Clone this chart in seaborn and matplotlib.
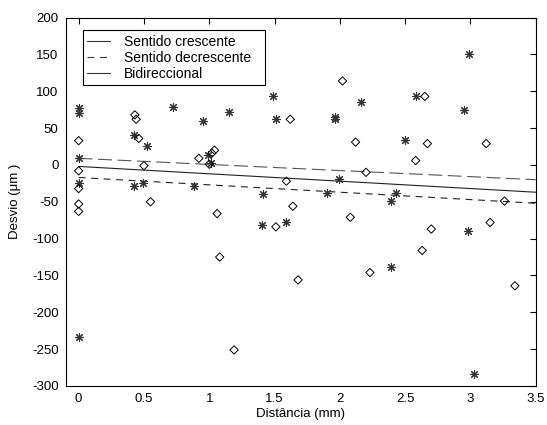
import matplotlib
matplotlib.use("Agg")
import matplotlib.pyplot as plt
import seaborn as sns
import pandas as pd
from matplotlib.lines import Line2D

# ---- data ----
star_x = [0, 0, 0, 0, 0,
          0.42, 0.52, 0.42, 0.49,
          0.72, 0.95, 0.99, 1.01, 0.88,
          1.15, 1.49, 1.51, 1.41, 1.40, 1.59,
          1.96, 1.96, 1.99, 1.90,
          2.16, 2.43, 2.39, 2.39, 2.50, 2.58,
          2.95, 2.99, 2.98, 3.03]
star_y = [77, 71, 9, -25, -233,
          40, 26, -29, -25,
          78, 59, 13, 2, -29,
          72, 94, 62, -40, -81, -77,
          65, 63, -19, -38,
          85, -38, -49, -138, 34, 93,
          75, 151, -89, -284]

diamond_x = [0, 0, 0, 0, 0,
             0.43, 0.44, 0.46, 0.50, 0.55,
             0.92, 1.02, 1.04, 1.00,
             1.06, 1.08, 1.19,
             1.51, 1.59, 1.62, 1.64, 1.68,
             2.02, 2.08, 2.12, 2.20, 2.23,
             2.58, 2.63, 2.65, 2.67, 2.70,
             3.12, 3.15, 3.26, 3.34]
diamond_y = [33, -8, -32, -53, -63,
             68, 62, 36, -1, -50,
             9, 16, 20, 1,
             -66, -125, -251,
             -84, -22, 62, -56, -156,
             114, -71, 31, -10, -146,
             6, -116, 93, 29, -87,
             29, -78, -49, -164]

line_x = [0, 3.5]
upper_y = [9, -20]
middle_y = [-2, -37]
lower_y = [-17, -52]

legend_labels = ["Sentido crescente", "Sentido decrescente", "Bidireccional"]
x_ticks = [0, 0.5, 1, 1.5, 2, 2.5, 3, 3.5]
x_tick_labels = ["0", "0.5", "1", "1.5", "2", "2.5", "3", "3.5"]
y_ticks = [-300, -250, -200, -150, -100, -50, 0, 50, 100, 150, 200]
y_tick_labels = ["-300", "-250", "-200", "-150", "-100", "-50", "0", "50", "100", "150", "200"]

# ---- style ----
sns.set_theme(style="white")
plt.rcParams['font.family'] = ['Liberation Sans', 'DejaVu Sans']
plt.rcParams['lines.scale_dashes'] = False
plt.rcParams['text.color'] = 'black'
plt.rcParams['axes.labelcolor'] = 'black'

fig = plt.figure(figsize=(5.47, 4.25), dpi=100)
ax = fig.add_axes([65.6 / 547, 1 - 386 / 425, 470.2 / 547, 368.4 / 425])

stars = pd.DataFrame({"x": star_x, "y": star_y})
diamonds = pd.DataFrame({"x": diamond_x, "y": diamond_y})

sns.lineplot(x=line_x, y=upper_y, ax=ax, color="#555555", linewidth=0.8,
             linestyle=(0, (10, 4)))
sns.lineplot(x=line_x, y=middle_y, ax=ax, color="#222222", linewidth=0.8,
             linestyle="-")
sns.lineplot(x=line_x, y=lower_y, ax=ax, color="#222222", linewidth=0.8,
             linestyle=(0, (5, 4)))

sns.scatterplot(data=stars, x="x", y="y", ax=ax, marker=(8, 2, 0), s=34,
                color="#333333", linewidth=0.8, zorder=3)
sns.scatterplot(data=diamonds, x="x", y="y", ax=ax, marker="D", s=18,
                facecolor="none", edgecolor="black", linewidth=0.7, zorder=3)

ax.set_xlim(-0.1, 3.5)
ax.set_ylim(-300, 200)
ax.set_xticks(x_ticks)
ax.set_xticklabels(x_tick_labels)
ax.set_yticks(y_ticks)
ax.set_yticklabels(y_tick_labels)
ax.tick_params(direction="in", top=True, right=True, length=4, width=0.8,
               labelsize=9.5, colors="black", pad=5)
for sp in ax.spines.values():
    sp.set_color("black")
    sp.set_linewidth(0.8)

ax.set_xlabel("Distância (mm)", fontsize=9.5, labelpad=2)
ax.set_ylabel("Desvio (μm )", fontsize=9.5, labelpad=8)

handles = [Line2D([], [], color="#333333", lw=0.8, ls="-"),
           Line2D([], [], color="#333333", lw=0.8, ls=(0, (5, 4))),
           Line2D([], [], color="#333333", lw=0.8, ls="-")]
leg = ax.legend(handles, legend_labels, loc="upper left",
                bbox_to_anchor=(0.037, 0.809, 0.387, 0.157), mode="expand",
                borderaxespad=0, fancybox=False, edgecolor="black",
                framealpha=1, fontsize=10, handlelength=1.6,
                handletextpad=1.0, labelspacing=0.16, borderpad=0.32)
leg.get_frame().set_linewidth(0.8)

fig.savefig("out.png", dpi=100, facecolor="white")
